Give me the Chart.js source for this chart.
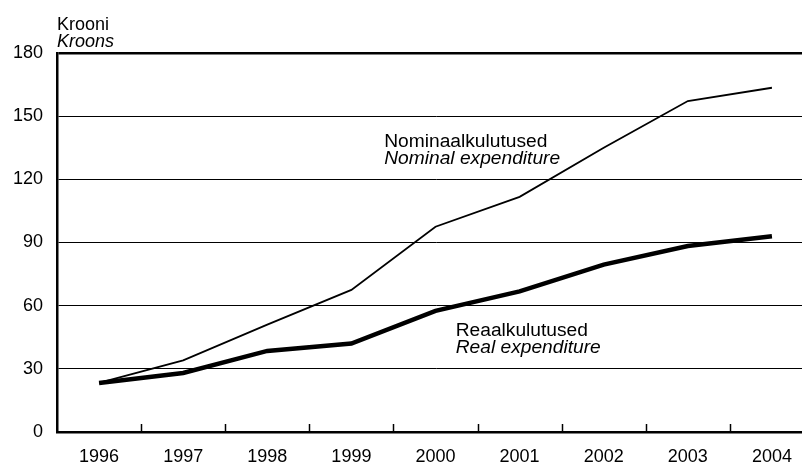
<!DOCTYPE html>
<html>
<head>
<meta charset="utf-8">
<script src="https://cdn.jsdelivr.net/npm/chart.js@4"></script>
<style>
  html, body { margin: 0; padding: 0; overflow: hidden; background: #fff; width: 802px; height: 462px; }
  #wrap { width: 816px; height: 462px; }
</style>
</head>
<body>
<div id="wrap"><canvas id="c" width="816" height="462"></canvas></div>
<script>
const years = ['1996', '1997', '1998', '1999', '2000', '2001', '2002', '2003', '2004'];
const nominal = [23.3, 34, 51, 67.5, 97.5, 111.7, 135, 157.2, 163.5];
const real = [23.3, 28, 38.5, 42, 57.5, 66.8, 79.5, 88.3, 93];
const yTicks = [0, 30, 60, 90, 120, 150, 180];
const unitLabels = ['Krooni', 'Kroons'];
const nominalLabels = ['Nominaalkulutused', 'Nominal expenditure'];
const realLabels = ['Reaalkulutused', 'Real expenditure'];

const FONT = '"Liberation Sans", Arial, sans-serif';

const decorPlugin = {
  id: 'decor',
  afterDraw(chart) {
    const ctx = chart.ctx;
    const x = chart.scales.x, y = chart.scales.y;
    const area = chart.chartArea;
    ctx.save();
    // inward tick marks between categories
    ctx.strokeStyle = '#000';
    ctx.lineWidth = 1.5;
    for (let i = 1; i < years.length; i++) {
      const px = Math.round((x.getPixelForTick(i - 1) + x.getPixelForTick(i)) / 2) + 0.5;
      ctx.beginPath();
      ctx.moveTo(px, area.bottom);
      ctx.lineTo(px, area.bottom - 8);
      ctx.stroke();
    }
    ctx.fillStyle = '#000';
    ctx.textBaseline = 'alphabetic';
    ctx.textAlign = 'left';
    // unit label
    ctx.font = '18px ' + FONT;
    ctx.fillText(unitLabels[0], area.left, 30);
    ctx.font = 'italic 18px ' + FONT;
    ctx.fillText(unitLabels[1], area.left, 47);
    // series annotations anchored on scale values
    const nx = x.getPixelForValue(3.39), ny = y.getPixelForValue(135.5);
    ctx.font = '19.2px ' + FONT;
    ctx.fillText(nominalLabels[0], nx, ny);
    ctx.font = 'italic 19.2px ' + FONT;
    ctx.fillText(nominalLabels[1], nx, ny + 17);
    const rx = x.getPixelForValue(4.24), ry = y.getPixelForValue(45.6);
    ctx.font = '19.2px ' + FONT;
    ctx.fillText(realLabels[0], rx, ry);
    ctx.font = 'italic 19.2px ' + FONT;
    ctx.fillText(realLabels[1], rx, ry + 17);
    ctx.restore();
  }
};

new Chart(document.getElementById('c'), {
  type: 'line',
  data: {
    labels: years,
    datasets: [
      { label: 'Nominal', data: nominal, borderColor: '#000', borderWidth: 1.8, pointRadius: 0, tension: 0, fill: false },
      { label: 'Real', data: real, borderColor: '#000', borderWidth: 4.5, pointRadius: 0, tension: 0, fill: false }
    ]
  },
  options: {
    responsive: false,
    animation: false,
    events: [],
    layout: { padding: { left: 0, right: 2, top: 53, bottom: 0 } },
    plugins: { legend: { display: false }, tooltip: { enabled: false } },
    scales: {
      x: {
        type: 'category',
        offset: true,
        grid: { display: true, drawOnChartArea: false, drawTicks: false, offset: true },
        border: { display: true, color: '#000', width: 2.5 },
        ticks: { color: '#000', font: { family: FONT, size: 18 }, padding: 14, maxRotation: 0, autoSkip: false },
        afterFit(scale) { scale.height = 30; }
      },
      y: {
        min: 0, max: 180,
        afterBuildTicks(scale) { scale.ticks = yTicks.map(v => ({ value: v })); },
        grid: {
          color: '#000',
          lineWidth: (c) => (c.tick && c.tick.value === 180 ? 2.5 : 1),
          drawTicks: false
        },
        border: { display: true, color: '#000', width: 2.5 },
        ticks: { color: '#000', font: { family: FONT, size: 18 }, padding: 14 },
        afterFit(scale) { scale.width = 57; }
      }
    }
  },
  plugins: [decorPlugin]
});
</script>
</body>
</html>
